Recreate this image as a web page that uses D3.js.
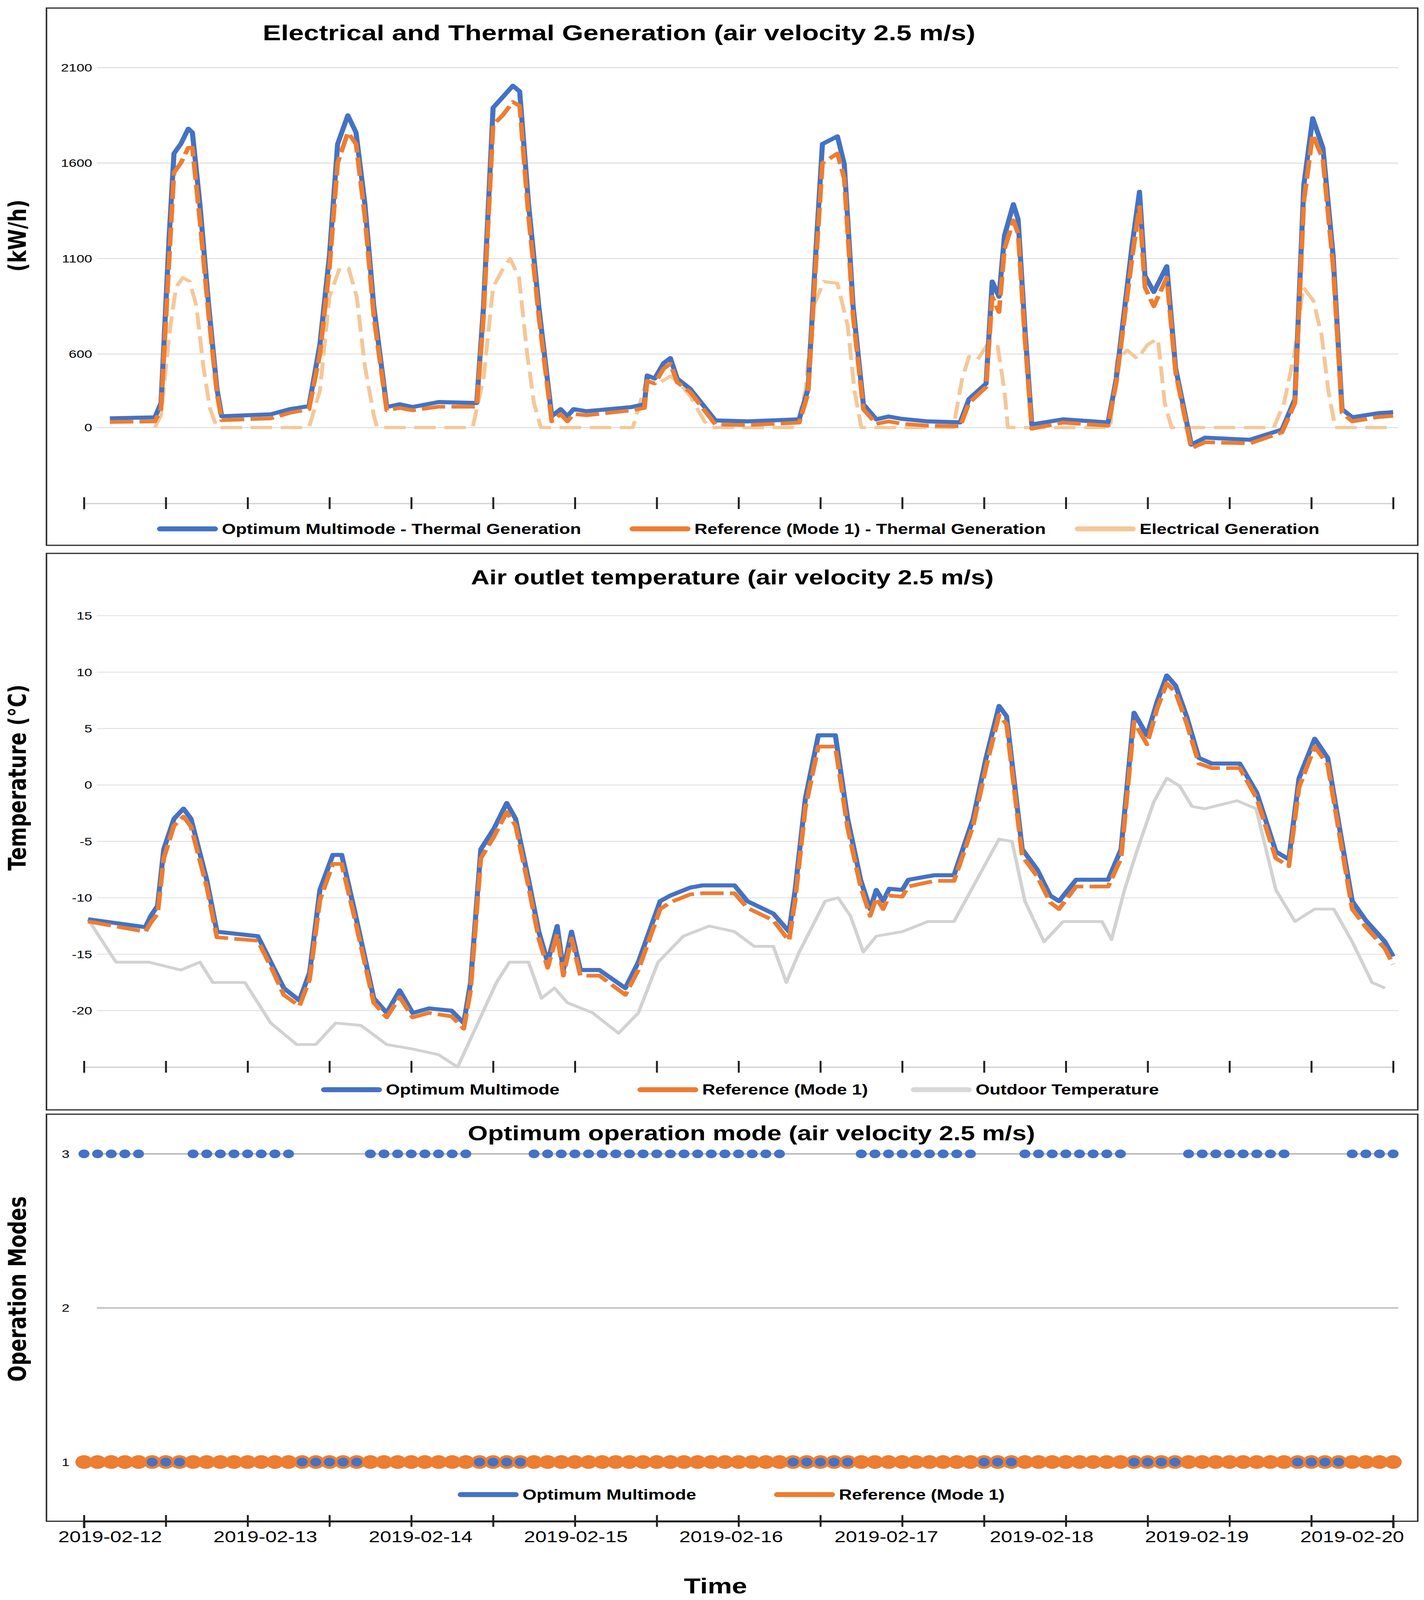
<!DOCTYPE html>
<html><head><meta charset="utf-8">
<script src="https://cdn.jsdelivr.net/npm/d3@7"></script>
<style>html,body{margin:0;padding:0;overflow:hidden;background:#fff}svg{display:block}</style>
</head><body>
<script>
// ---------- DATA ----------
const dateLabels = ["2019-02-12","2019-02-13","2019-02-14","2019-02-15","2019-02-16","2019-02-17","2019-02-18","2019-02-19","2019-02-20"];
const genTicks = [2100,1600,1100,600,0];
const tempTicks = [15,10,5,0,-5,-10,-15,-20];
const modeTicks = [3,2,1];
// [hour, value]
const thermalOpt = [[3.8,75],[10.4,83],[11.3,200],[12.5,1220],[13.2,1650],[14.2,1700],[15.3,1780],[15.9,1760],[17,1385],[18.3,850],[19.5,316],[20.2,92],[27.4,108],[30.2,150],[33,175],[34.6,650],[36,1115],[37.2,1700],[38.7,1850],[39.9,1760],[41.2,1385],[42.5,850],[44.4,167],[46.3,190],[48.2,167],[52,208],[57.6,200],[58.6,850],[60,1890],[61.4,1945],[62.9,2005],[63.9,1975],[65.2,1385],[66.7,850],[68.6,92],[69.9,150],[70.9,92],[71.8,150],[73.7,133],[80.3,167],[82.2,190],[82.6,425],[83.7,400],[85,525],[86,567],[87,400],[88.9,316],[92.6,58],[97.3,50],[104.9,67],[106.2,316],[107.3,1115],[108.3,1700],[110.5,1740],[111.5,1595],[112.8,850],[114.3,190],[116.2,67],[118,90],[120,70],[123.8,50],[128.5,42],[129.8,233],[132.3,358],[133.2,980],[134.2,900],[135,1220],[136.3,1385],[137,1305],[138,730],[139,25],[143.6,67],[150.2,42],[151.4,400],[153.7,1165],[154.8,1450],[155.6,1010],[156.9,925],[158.8,1060],[160.1,483],[162.4,-140],[164.4,-83],[171,-100],[175.7,-17],[177.6,233],[178.9,1485],[180.2,1835],[181.7,1680],[183.2,1115],[184.5,150],[186,83],[189.8,117],[192,125]];
const thermalRef = [[3.8,45],[10.4,50],[11.3,150],[12.5,1100],[13.2,1550],[14.2,1600],[15.3,1680],[15.9,1680],[17,1300],[18.3,800],[19.5,280],[20.2,60],[27.4,75],[30.2,120],[33,150],[34.6,600],[36,1050],[37.2,1600],[38.7,1760],[39.9,1700],[41.2,1320],[42.5,800],[44.4,140],[46.3,160],[48.2,140],[52,170],[57.6,170],[58.6,800],[60,1800],[61.4,1850],[62.9,1920],[63.9,1900],[65.2,1320],[66.7,800],[68.6,50],[69.9,110],[70.9,50],[71.8,110],[73.7,100],[80.3,140],[82.2,160],[82.6,380],[83.7,360],[85,480],[86,520],[87,370],[88.9,290],[92.6,25],[97.3,20],[104.9,40],[106.2,280],[107.3,1050],[108.3,1600],[110.5,1650],[111.5,1520],[112.8,800],[114.3,150],[116.2,30],[118,50],[120,30],[123.8,15],[128.5,10],[129.8,200],[132.3,330],[133.2,900],[134.2,820],[135,1150],[136.3,1300],[137,1230],[138,680],[139,-10],[143.6,40],[150.2,15],[151.4,370],[153.7,1100],[154.8,1370],[155.6,950],[156.9,850],[158.8,1000],[160.1,450],[162.4,-170],[164.4,-120],[171,-130],[175.7,-40],[177.6,200],[178.9,1400],[180.2,1750],[181.7,1620],[183.2,1060],[184.5,120],[186,50],[189.8,85],[192,95]];
const electrical = [[10.4,0],[11.3,100],[12.5,700],[13.5,950],[14.5,1000],[15.5,980],[16.5,850],[17.5,500],[18.5,150],[19.5,0],[33,0],[34.6,300],[36,900],[37.5,1050],[38.8,1050],[40,900],[41.2,500],[42.5,100],[43,0],[57,0],[58.6,400],[60,950],[61.5,1050],[62.5,1100],[63.8,1000],[65,600],[66,200],[67,0],[80.5,0],[82.5,380],[84,350],[86,420],[87.5,350],[89,250],[91,50],[92,0],[104.5,0],[105.8,300],[107,850],[108.5,980],[110.5,970],[112,750],[113,300],[114,0],[127.5,0],[128.8,400],[129.8,580],[131,550],[132.5,650],[134,640],[135,300],[135.5,0],[150.5,0],[151.5,550],[153,620],[154.5,560],[156,650],[157.5,680],[158.5,200],[159.5,0],[174.5,0],[176,200],[177.5,600],[178.8,950],[180.3,880],[181.5,700],[182.5,300],[183.5,0],[192,0]];
const tempOpt = [[0.6,-11.9],[9,-12.6],[9.8,-11.6],[10.8,-10.7],[11.7,-5.7],[13.2,-3],[14.6,-2.1],[15.7,-3],[18,-8.4],[19.5,-13],[25.5,-13.4],[27.4,-15.7],[29.3,-18],[31.6,-19.1],[33.1,-16.6],[34.6,-9.3],[36.5,-6.2],[37.8,-6.2],[39.7,-11.2],[42.5,-18.9],[44.4,-20.2],[46.3,-18.2],[48.2,-20.2],[50.6,-19.8],[53.9,-20],[55.7,-21.1],[56.7,-17.5],[58.2,-5.7],[60.1,-3.9],[62,-1.6],[63.3,-3],[65.2,-8.4],[66.7,-13],[68,-15.7],[69.4,-12.5],[70.3,-16.4],[71.5,-13],[72.8,-16.4],[75.6,-16.4],[79.4,-18],[81.3,-15.7],[84.5,-10.3],[86,-9.8],[88.9,-9.1],[90.7,-8.9],[95.4,-8.9],[97.3,-10.3],[101.1,-11.4],[103.4,-13],[104.3,-9.3],[105.8,-1.2],[107.7,4.4],[110.2,4.4],[112,-3],[113.9,-8.4],[115.3,-11],[116.2,-9.3],[117.2,-10.3],[118.1,-9.2],[120,-9.3],[120.9,-8.4],[124.7,-8],[127.6,-8],[130.4,-3],[132.3,2.4],[134.2,7],[135.3,6.1],[137.6,-5.7],[139.8,-7.5],[141.7,-9.8],[143,-10.3],[145.5,-8.4],[150.2,-8.4],[152.1,-5.7],[154,6.4],[155.9,4.4],[157.4,7.4],[158.8,9.7],[160.1,8.8],[161.7,6.1],[163.5,2.4],[165.4,1.9],[169.5,1.9],[172,-0.7],[174.8,-5.9],[176.7,-6.6],[178.2,0.6],[180.5,4.1],[182.4,2.4],[184.3,-4.4],[186,-10.3],[188,-12],[190.8,-13.9],[192,-15.2]];
const tempRef = [[0.6,-12.1],[9,-13],[9.8,-12.2],[10.8,-11.4],[11.7,-6.5],[13.2,-3.6],[14.6,-2.8],[15.7,-3.7],[18,-9],[19.5,-13.5],[25.5,-13.8],[27.4,-16.1],[29.3,-18.6],[31.6,-19.6],[33.1,-17.2],[34.6,-10.2],[36.5,-7],[37.8,-7],[39.7,-11.8],[42.5,-19.3],[44.4,-20.6],[46.3,-18.8],[48.2,-20.6],[50.6,-20.2],[53.9,-20.5],[55.7,-21.6],[56.7,-18.2],[58.2,-6.5],[60.1,-4.6],[62,-2.4],[63.3,-3.6],[65.2,-9],[66.7,-13.6],[68,-16.2],[69.4,-13.2],[70.3,-16.9],[71.5,-13.6],[72.8,-16.9],[75.6,-16.9],[79.4,-18.6],[81.3,-16.4],[84.5,-11],[86,-10.4],[88.9,-9.7],[90.7,-9.6],[95.4,-9.6],[97.3,-10.9],[101.1,-12],[103.4,-13.8],[104.3,-10.2],[105.8,-2],[107.7,3.4],[110.2,3.4],[112,-3.8],[113.9,-9],[115.3,-11.6],[116.2,-10],[117.2,-11],[118.1,-9.8],[120,-9.9],[120.9,-9],[124.7,-8.5],[127.6,-8.5],[130.4,-3.6],[132.3,1.6],[134.2,6.2],[135.3,5.4],[137.6,-6.3],[139.8,-8.1],[141.7,-10.4],[143,-11],[145.5,-9],[150.2,-9],[152.1,-6.5],[154,5.6],[155.9,3.6],[157.4,6.8],[158.8,9],[160.1,8.2],[161.7,5.5],[163.5,1.9],[165.4,1.5],[169.5,1.5],[172,-1.2],[174.8,-6.5],[176.7,-7.2],[178.2,-0.2],[180.5,3.4],[182.4,1.8],[184.3,-5],[186,-11],[188,-12.6],[190.8,-14.5],[192,-15.9]];
const tempOut = [[0.6,-11.9],[4.7,-15.7],[9.5,-15.7],[14.2,-16.4],[17,-15.7],[18.9,-17.5],[23.6,-17.5],[27.4,-21.1],[31.2,-23],[34,-23],[36.9,-21.1],[40.6,-21.3],[44.4,-23],[48.2,-23.4],[52,-23.9],[54.8,-25],[56.7,-22.5],[60.5,-17.5],[62.4,-15.7],[65.2,-15.7],[67.1,-18.9],[69,-18],[70.9,-19.3],[74.6,-20.2],[78.4,-22],[81.3,-20.2],[84.2,-15.7],[87.9,-13.4],[91.7,-12.5],[95.4,-13],[98.3,-14.3],[101.1,-14.3],[103,-17.5],[104.9,-14.8],[108.7,-10.3],[110.6,-10],[112.4,-11.6],[114.3,-14.8],[116.2,-13.4],[120,-13],[123.8,-12.1],[127.6,-12.1],[131.3,-8],[134.2,-4.8],[136.1,-5],[138,-10.3],[140.8,-13.9],[143.6,-12.1],[149.3,-12.1],[150.7,-13.7],[152.6,-9.3],[154.5,-5.7],[156.9,-1.5],[158.8,0.6],[160.7,-0.1],[162.5,-1.9],[164.4,-2.1],[169.1,-1.4],[171.9,-2.1],[174.8,-9.3],[177.6,-12.1],[180.5,-11],[183.3,-11],[186,-13.9],[188.9,-17.5],[190.8,-18]];
// Optimum operating mode every 2 hours (index i = hour 2i)
const modeOpt = [3,3,3,3,3,1,1,1,3,3,3,3,3,3,3,3,1,1,1,1,1,3,3,3,3,3,3,3,3,1,1,1,1,3,3,3,3,3,3,3,3,3,3,3,3,3,3,3,3,3,3,3,1,1,1,1,1,3,3,3,3,3,3,3,3,3,1,1,1,3,3,3,3,3,3,3,3,1,1,1,1,3,3,3,3,3,3,3,3,1,1,1,1,3,3,3,3];
const modeRef = modeOpt.map(() => 1);

// ---------- DRAW ----------
const W = 3646, H = 5161;
const BLUE = "#4472C4", ORANGE = "#ED7D31", LIGHT = "#F4C799", GREY = "#d2d2d2";
const FONT = "'Liberation Sans', Arial, sans-serif";
const svg = d3.select("body").append("svg")
  .attr("viewBox",`0 0 ${W} ${H}`).attr("preserveAspectRatio","none")
  .style("width","100vw").style("height","100vh");
const x = d3.scaleLinear().domain([0,192]).range([215,3567]);
const xLab = d3.scaleLinear().domain([0,8]).range([282,3462]);
const gridX0 = 248, gridX1 = 3580;

function frame(y0, y1){ svg.append("rect").attr("x",119).attr("y",y0).attr("width",3511).attr("height",y1-y0).attr("fill","none").attr("stroke","#333").attr("stroke-width",4); }
function title(t, cx, cy, size){ svg.append("text").attr("x",cx).attr("y",cy).attr("text-anchor","middle").attr("font-family",FONT).attr("font-weight","bold").attr("font-size",size).text(t); }
function ylab(t, cx, cy){ svg.append("text").attr("transform",`translate(${cx},${cy}) rotate(-90)`).attr("text-anchor","middle").attr("font-family","'DejaVu Sans', sans-serif").attr("font-weight","bold").attr("font-size",62).text(t); }
function grid(y, ticks, stroke, lx){
  const g = svg.append("g");
  ticks.forEach(t => {
    g.append("line").attr("x1",gridX0).attr("x2",gridX1).attr("y1",y(t)).attr("y2",y(t)).attr("stroke",stroke||"#dcdcdc").attr("stroke-width",3);
    g.append("text").attr("x",lx||236).attr("y",y(t)).attr("dy","0.35em").attr("text-anchor","end").attr("font-family",FONT).attr("font-size",36).text(t);
  });
}
function xaxis(yy, color, sw){
  const g = svg.append("g").attr("transform",`translate(0,${yy})`);
  g.call(d3.axisBottom(x).tickValues(d3.range(0,193,12)).tickSize(22).tickFormat(""));
  g.select(".domain").attr("stroke",color).attr("stroke-width",sw);
  g.selectAll(".tick line").attr("stroke","#222").attr("stroke-width",5).attr("y1",-20).attr("y2",18);
  return g;
}
function legend(items, yy){
  items.forEach(it => {
    svg.append("line").attr("x1",it.x).attr("x2",it.x+140).attr("y1",yy).attr("y2",yy).attr("stroke",it.c).attr("stroke-width",16).attr("stroke-linecap","round");
    svg.append("text").attr("x",it.x+158).attr("y",yy).attr("dy","0.35em").attr("font-family",FONT).attr("font-weight","bold").attr("font-size",46).text(it.t);
  });
}
function path(data, y, color, w, dash){
  const l = d3.line().x(d=>x(d[0])).y(d=>y(d[1]));
  const p = svg.append("path").datum(data).attr("d",l).attr("fill","none").attr("stroke",color).attr("stroke-width",w).attr("stroke-linejoin","round");
  if (dash) p.attr("stroke-dasharray",dash);
}

// Panel 1
frame(26,1759);
title("Electrical and Thermal Generation (air velocity  2.5  m/s)", 1585, 130, 70);
const y1 = d3.scaleLinear().domain([-620,0,600,2100]).range([1624,1379,1142,218]);
grid(y1, genTicks);
xaxis(1624, "#cfcfcf", 4);
path(electrical, y1, LIGHT, 10, "55,22");
path(thermalOpt, y1, BLUE, 13);
path(thermalRef, y1, ORANGE, 12, "60,16");
ylab("(kW/h)", 66, 760);
legend([{x:410,c:BLUE,t:"Optimum Multimode - Thermal Generation"},{x:1620,c:ORANGE,t:"Reference (Mode 1) - Thermal Generation"},{x:2760,c:LIGHT,t:"Electrical Generation"}], 1706);

// Panel 2
frame(1785,3580);
title("Air outlet temperature (air velocity  2.5  m/s)", 1875, 1885, 66);
const y2 = d3.scaleLinear().domain([-25,15]).range([3442,1986]);
grid(y2, tempTicks, "#e2e2e2");
xaxis(3442, "#cfcfcf", 4);
path(tempOut, y2, GREY, 9);
path(tempOpt, y2, BLUE, 13);
path(tempRef, y2, ORANGE, 12, "60,16");
ylab("Temperature (°C)", 66, 2508);
legend([{x:830,c:BLUE,t:"Optimum Multimode"},{x:1640,c:ORANGE,t:"Reference (Mode 1)"},{x:2340,c:"#d8d8d8",t:"Outdoor Temperature"}], 3515);

// Panel 3
frame(3594,4907);
title("Optimum operation mode (air velocity  2.5  m/s)", 1924, 3678, 66);
const y3 = d3.scaleLinear().domain([1,3]).range([4716,3722]);
grid(y3, modeTicks, "#9a9a9a", 178);
svg.append("g").selectAll("circle").data(modeRef).join("circle")
  .attr("cx",(d,i)=>x(i*2)).attr("cy",d=>y3(d)).attr("r",22).attr("fill",ORANGE);
svg.append("g").selectAll("circle").data(modeOpt).join("circle")
  .attr("cx",(d,i)=>x(i*2)).attr("cy",d=>y3(d)).attr("r",14).attr("fill",BLUE);
ylab("Operation Modes", 66, 4158);
legend([{x:1180,c:BLUE,t:"Optimum Multimode"},{x:1990,c:ORANGE,t:"Reference (Mode 1)"}], 4821);
xaxis(4907, "#111", 6);
dateLabels.forEach((d,i) => {
  svg.append("text").attr("x",xLab(i)).attr("y",4975).attr("text-anchor","middle").attr("font-family",FONT).attr("font-size",52).text(d);
});
svg.append("text").attr("x",1832).attr("y",5140).attr("text-anchor","middle").attr("font-family",FONT).attr("font-weight","bold").attr("font-size",70).text("Time");
</script>
</body></html>
